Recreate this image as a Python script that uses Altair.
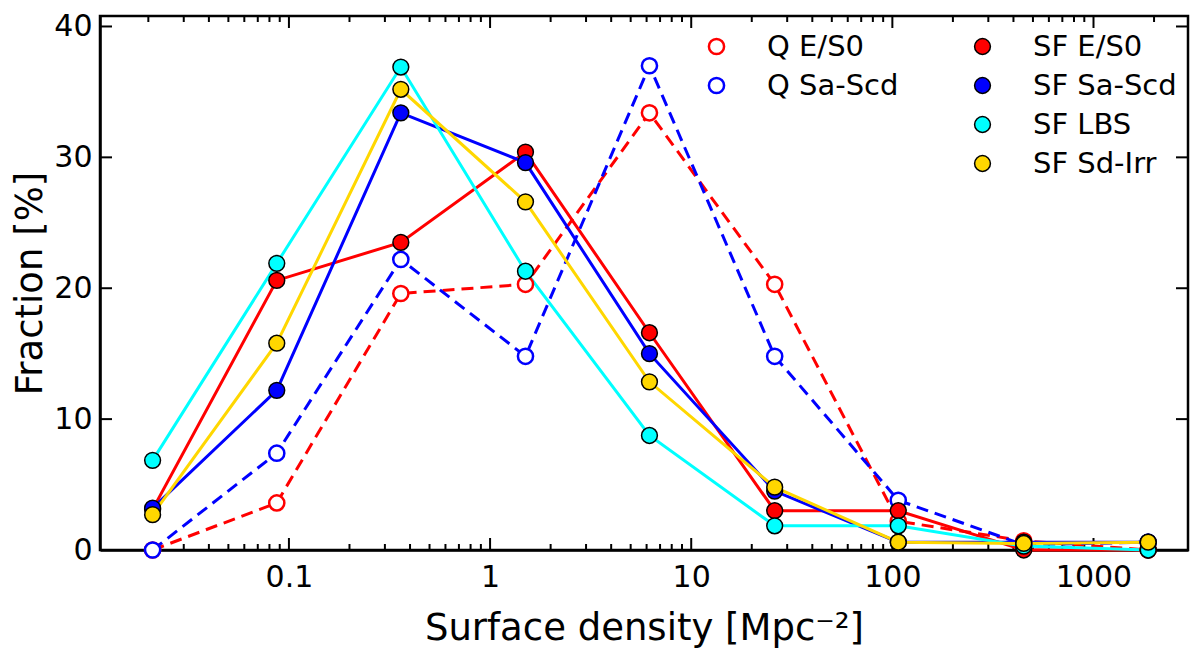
import pandas as pd
import altair as alt

# bin centres of surface density [Mpc^-2]
density = [0.021, 0.087, 0.36, 1.5, 6.2, 26, 107, 450, 1870]

# fractions [%]
q_es0 = [0.0, 3.6, 19.6, 20.3, 33.4, 20.3, 2.2, 0.7, 0.0]
q_sascd = [0.0, 7.4, 22.2, 14.8, 37.0, 14.8, 3.8, 0.4, 0.6]
sf_es0 = [3.1, 20.6, 23.5, 30.4, 16.6, 3.0, 3.0, 0.0, 0.0]
sf_sascd = [3.2, 12.2, 33.4, 29.6, 15.0, 4.5, 0.6, 0.6, 0.6]
sf_lbs = [6.85, 21.9, 36.9, 21.3, 8.75, 1.85, 1.85, 0.3, 0.0]
sf_sdirr = [2.7, 15.8, 35.2, 26.6, 12.85, 4.8, 0.6, 0.5, 0.6]

q_names = ['Q E/S0', 'Q Sa-Scd']
q_colors = ['#ff0000', '#0000ff']
sf_names = ['SF E/S0', 'SF Sa-Scd', 'SF LBS', 'SF Sd-Irr']
sf_colors = ['#ff0000', '#0000ff', '#00ffff', '#ffd700']

x_major = [0.1, 1, 10, 100, 1000]
x_minor = [k * 10.0 ** e for e in range(-2, 4) for k in range(2, 10)]
x_minor = [v for v in x_minor if 0.0115 < v < 2950]
y_major = [0, 10, 20, 30, 40]

rows = []
for name, vals in zip(q_names + sf_names, [q_es0, q_sascd, sf_es0, sf_sascd, sf_lbs, sf_sdirr]):
    for i, (d, v) in enumerate(zip(density, vals)):
        rows.append({'density': d, 'fraction': v, 'series': name, 'order': i})
df = pd.DataFrame(rows)
df_q = df[df.series.isin(q_names)]
df_sf = df[df.series.isin(sf_names)]

W, H = 1088, 534
FONT = 'DejaVu Sans'

x_scale = alt.Scale(type='log', domain=[0.0115, 2950], nice=False)
y_scale = alt.Scale(domain=[0, 40.8], nice=False)

x_enc = alt.X('density:Q', scale=x_scale,
              axis=alt.Axis(values=x_major, format='~g', ticks=False, grid=False,
                            title='Surface density [Mpc⁻²]', labelPadding=12,
                            titlePadding=18))
y_enc = alt.Y('fraction:Q', scale=y_scale,
              axis=alt.Axis(values=y_major, ticks=False, grid=False,
                            title='Fraction [%]', labelPadding=8, titlePadding=4))

q_color = alt.Scale(domain=q_names, range=q_colors)
sf_color = alt.Scale(domain=sf_names, range=sf_colors)

q_lines = alt.Chart(df_q).mark_line(strokeWidth=3, strokeDash=[12, 7]).encode(
    x=x_enc, y=y_enc,
    color=alt.Color('series:N', scale=q_color, legend=None),
    order='order:Q'
)
sf_lines = alt.Chart(df_sf).mark_line(strokeWidth=3).encode(
    x=x_enc, y=y_enc,
    color=alt.Color('series:N', scale=sf_color, legend=None),
    order='order:Q'
)

q_points = alt.Chart(df_q).mark_point(
    filled=False, fill='white', fillOpacity=1, opacity=1, strokeWidth=2.5, size=230, shape='circle'
).encode(
    x=x_enc, y=y_enc,
    color=alt.Color('series:N', scale=q_color,
                    legend=alt.Legend(title=None, orient='none', legendX=602, legendY=16,
                                      labelFontSize=29, labelFont=FONT, symbolSize=230,
                                      symbolType='circle', symbolStrokeWidth=2.5,
                                      symbolFillColor='white', labelOffset=36,
                                      rowPadding=9, padding=0))
)
sf_points = alt.Chart(df_sf).mark_point(
    filled=True, stroke='black', strokeWidth=1.5, size=250, opacity=1, shape='circle'
).encode(
    x=x_enc, y=y_enc,
    color=alt.Color('series:N', scale=sf_color,
                    legend=alt.Legend(title=None, orient='none', legendX=868, legendY=16,
                                      labelFontSize=29, labelFont=FONT, symbolSize=250,
                                      symbolType='circle', symbolStrokeColor='black',
                                      symbolStrokeWidth=1.5, labelOffset=36,
                                      rowPadding=9, padding=0))
)

# inward ticks on all four sides
xmaj = pd.DataFrame({'t': x_major})
xmin = pd.DataFrame({'t': x_minor})
ymaj = pd.DataFrame({'t': y_major})


def xticks(data, length):
    bottom = alt.Chart(data).mark_rule(color='black', strokeWidth=2).encode(
        x=alt.X('t:Q', scale=x_scale), y=alt.value(H), y2=alt.value(H - length))
    top = alt.Chart(data).mark_rule(color='black', strokeWidth=2).encode(
        x=alt.X('t:Q', scale=x_scale), y=alt.value(0), y2=alt.value(length))
    return bottom + top


left = alt.Chart(ymaj).mark_rule(color='black', strokeWidth=2).encode(
    y=alt.Y('t:Q', scale=y_scale), x=alt.value(0), x2=alt.value(12))
right = alt.Chart(ymaj).mark_rule(color='black', strokeWidth=2).encode(
    y=alt.Y('t:Q', scale=y_scale), x=alt.value(W), x2=alt.value(W - 12))

chart = alt.layer(
    xticks(xmaj, 12), xticks(xmin, 6), left, right,
    q_lines, sf_lines, q_points, sf_points
).resolve_scale(
    color='independent'
).properties(
    width=W, height=H,
    autosize=alt.AutoSizeParams(type='none'),
    padding={'left': 92, 'top': 8, 'right': 4, 'bottom': 104}
).configure_view(
    stroke='black', strokeWidth=2.5
).configure_axis(
    domainColor='black', domainWidth=2.5, labelFont=FONT, titleFont=FONT,
    labelFontSize=30, titleFontSize=37, labelColor='black', titleColor='black',
    titleFontWeight='normal'
)

chart.save("out.html", embed_options={"renderer": "svg", "actions": False})
